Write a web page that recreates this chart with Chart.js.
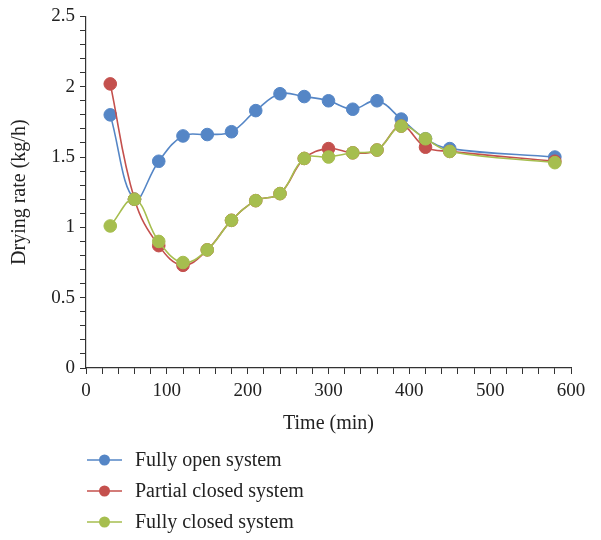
<!DOCTYPE html>
<html>
<head>
<meta charset="utf-8">
<script src="https://cdn.jsdelivr.net/npm/chart.js@4/dist/chart.umd.min.js"></script>
<style>
html,body{margin:0;padding:0;background:#fff;}
#wrap{width:601px;height:540px;position:relative;}
</style>
</head>
<body>
<div id="wrap"><canvas id="c" width="601" height="540"></canvas></div>
<script>
// ---- data ----
const timeMin = [30, 60, 90, 120, 150, 180, 210, 240, 270, 300, 330, 360, 390, 420, 450, 580];
const fullyOpen = [1.80, 1.20, 1.47, 1.65, 1.66, 1.68, 1.83, 1.95, 1.93, 1.90, 1.84, 1.90, 1.77, 1.63, 1.56, 1.50];
const partialClosed = [2.02, 1.20, 0.87, 0.73, 0.84, 1.05, 1.19, 1.24, 1.49, 1.56, 1.53, 1.55, 1.72, 1.57, 1.54, 1.47];
const fullyClosed = [1.01, 1.20, 0.90, 0.75, 0.84, 1.05, 1.19, 1.24, 1.49, 1.50, 1.53, 1.55, 1.72, 1.63, 1.54, 1.46];
const seriesNames = ['Fully open system', 'Partial closed system', 'Fully closed system'];
const seriesColors = ['#5586C6', '#C4504D', '#A6BE4F'];
const xTitle = 'Time (min)';
const yTitle = 'Drying rate (kg/h)';

const FONT = "'Liberation Serif', 'DejaVu Serif', serif";

function pts(vals){ return timeMin.map((t,i)=>({x:t, y:vals[i]})); }

const allSeries = [fullyOpen, partialClosed, fullyClosed];
const datasets = allSeries.map((vals,i)=>({
  label: seriesNames[i],
  data: pts(vals),
  order: allSeries.length - i,
  borderColor: seriesColors[i],
  backgroundColor: seriesColors[i],
  pointBackgroundColor: seriesColors[i],
  pointBorderColor: seriesColors[i],
  pointBorderWidth: 1,
  pointRadius: 6.3,
  borderWidth: 1.6,
  tension: 0.4,
  fill: false
}));

const vLegend = {
  id: 'vLegend',
  afterDraw(chart){
    const ctx = chart.ctx;
    const area = chart.chartArea;
    const x0 = area.left + 1;
    const lineLen = 35;
    ctx.save();
    ctx.font = "20px " + FONT;
    ctx.textBaseline = 'middle';
    ctx.textAlign = 'left';
    chart.data.datasets.forEach((ds,i)=>{
      const y = area.bottom + 92 + i*31;
      ctx.strokeStyle = ds.borderColor;
      ctx.lineWidth = 1.6;
      ctx.beginPath(); ctx.moveTo(x0, y); ctx.lineTo(x0+lineLen, y); ctx.stroke();
      ctx.fillStyle = ds.backgroundColor;
      ctx.beginPath(); ctx.arc(x0+lineLen/2, y, 5.5, 0, Math.PI*2); ctx.fill();
      ctx.fillStyle = '#222';
      ctx.fillText(ds.label, x0 + lineLen + 13, y + 1);
    });
    ctx.restore();
  }
};

new Chart(document.getElementById('c'), {
  type: 'line',
  data: { datasets },
  plugins: [vLegend],
  options: {
    responsive: false,
    animation: false,
    layout: { padding: { left: 0, top: 15, right: 30, bottom: 104 } },
    plugins: { legend: { display: false }, tooltip: { enabled: false } },
    scales: {
      x: {
        type: 'linear', min: 0, max: 600,
        afterFit(s){ s.height = 68; },
        ticks: {
          stepSize: 20, autoSkip: false, maxRotation: 0, minRotation: 0,
          color: '#222', font: { family: FONT, size: 19 }, padding: 6,
          callback: v => (v % 100 === 0 ? String(v) : '')
        },
        grid: { drawOnChartArea: false, drawTicks: true, tickLength: 6, color: '#333', lineWidth: 1 },
        border: { color: '#333', width: 1.2 },
        title: { display: true, text: xTitle, color: '#222', font: { family: FONT, size: 20 }, padding: { top: 0, bottom: 0 } }
      },
      y: {
        type: 'linear', min: 0, max: 2.5,
        afterFit(s){ s.width = 86; },
        ticks: {
          stepSize: 0.1, autoSkip: false,
          color: '#222', font: { family: FONT, size: 19 }, padding: 5,
          callback: v => { const r = Math.round(v*10); return r % 5 === 0 ? String(r/10) : ''; }
        },
        grid: { drawOnChartArea: false, drawTicks: true, tickLength: 6, color: '#333', lineWidth: 1 },
        border: { color: '#333', width: 1.2 },
        title: { display: true, text: yTitle, color: '#222', font: { family: FONT, size: 20 }, padding: { top: 8, bottom: 0 } }
      }
    }
  }
});
</script>
</body>
</html>
